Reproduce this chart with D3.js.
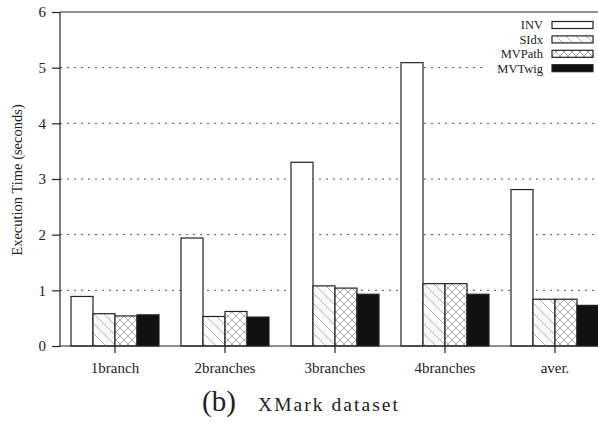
<!DOCTYPE html>
<html><head><meta charset="utf-8">
<script src="https://cdn.jsdelivr.net/npm/d3@7"></script>
<style>body{margin:0;background:#fff}svg{display:block}text{font-family:"Liberation Serif","Times New Roman",Times,serif;fill:#222}</style>
</head><body>
<script>
const categories = ["1branch","2branches","3branches","4branches","aver."];
const seriesNames = ["INV","SIdx","MVPath","MVTwig"];
const INV    = [0.89, 1.94, 3.30, 5.09, 2.81];
const SIdx   = [0.58, 0.53, 1.08, 1.12, 0.84];
const MVPath = [0.54, 0.62, 1.04, 1.12, 0.84];
const MVTwig = [0.56, 0.52, 0.93, 0.93, 0.73];
const yTicks = [0,1,2,3,4,5,6];
const yTitle = "Execution Time (seconds)";
const captionA = "(b)", captionB = "XMark dataset";

const series = [INV, SIdx, MVPath, MVTwig];
const W = 598, H = 423;
const m = {left:60, top:12, bottom:346, right:610};
const svg = d3.select("body").append("svg").attr("width",W).attr("height",H);
const defs = svg.append("defs");
const p1 = defs.append("pattern").attr("id","pS").attr("patternUnits","userSpaceOnUse").attr("width",10).attr("height",10);
p1.append("rect").attr("width",10).attr("height",10).attr("fill","#fff");
p1.append("path").attr("d","M-1,-1L11,11M-6,4L6,16M4,-6L16,6").attr("stroke","#888").attr("stroke-width",0.7);
const p2 = defs.append("pattern").attr("id","pM").attr("patternUnits","userSpaceOnUse").attr("width",8).attr("height",8);
p2.append("rect").attr("width",8).attr("height",8).attr("fill","#fff");
p2.append("path").attr("d","M0,0L8,8M8,0L0,8M-4,4L0,8M4,-4L12,4M-4,4L4,-4M4,12L12,4").attr("stroke","#888").attr("stroke-width",0.7);
const fills = ["#fff","url(#pS)","url(#pM)","#111"];

const x = d3.scaleBand().domain(categories).range([m.left, m.right]).paddingInner(0.2).paddingOuter(0.1);
const xs = d3.scaleBand().domain(seriesNames).range([0, x.bandwidth()]);
const y = d3.scaleLinear().domain([0,6]).range([m.bottom, m.top]);

// gridlines
svg.append("g").selectAll("line").data(yTicks.filter(d=>d>0 && d<6)).join("line")
  .attr("x1",m.left).attr("x2",W).attr("y1",d=>y(d)).attr("y2",d=>y(d))
  .attr("stroke","#555").attr("stroke-width",1).attr("stroke-dasharray","2,5");

// top frame line
svg.append("line").attr("x1",m.left).attr("x2",W).attr("y1",y(6)).attr("y2",y(6)).attr("stroke","#222").attr("stroke-width",1.2);

// legend background
svg.append("rect").attr("x",486).attr("y",17).attr("width",112).attr("height",59).attr("fill","#fff");

// bars
const g = svg.append("g");
seriesNames.forEach((s,i)=>{
  g.selectAll(null).data(categories).join("rect")
    .attr("x",c=>x(c)+xs(s)).attr("width",xs.bandwidth())
    .attr("y",(c,j)=>y(series[i][j])).attr("height",(c,j)=>y(0)-y(series[i][j]))
    .attr("fill",fills[i]).attr("stroke","#222").attr("stroke-width",1.2);
});

// y axis
const ya = svg.append("g").attr("transform",`translate(${m.left},0)`)
  .call(d3.axisLeft(y).tickValues(yTicks).tickSize(8).tickPadding(6).tickFormat(d3.format("d")));
ya.attr("font-family",null);
ya.select(".domain").attr("stroke","#222").attr("stroke-width",1.2).attr("d",`M0,${y(0)}V${y(6)}`);
ya.selectAll(".tick line").attr("stroke","#222").attr("stroke-width",1.2);
ya.selectAll("text").attr("font-size",15).attr("fill","#222");

// x axis
const xa = svg.append("g").attr("transform",`translate(0,${m.bottom})`)
  .call(d3.axisBottom(x).tickSize(7).tickPadding(9));
xa.attr("font-family",null);
xa.select(".domain").attr("d",`M${m.left},0H${W}`).attr("stroke","#222").attr("stroke-width",1.2);
xa.selectAll(".tick line").attr("stroke","#222").attr("stroke-width",1.2);
xa.selectAll("text").attr("font-size",15).attr("fill","#222");

// legend
const lg = svg.append("g");
seriesNames.forEach((s,i)=>{
  const cy = 25 + i*14.4;
  lg.append("text").attr("x",543).attr("y",cy+4.3).attr("text-anchor","end").attr("font-size",12.5).text(s);
  lg.append("rect").attr("x",552).attr("y",cy-3.5).attr("width",41).attr("height",7)
    .attr("fill",fills[i]).attr("stroke","#222").attr("stroke-width",1.2);
});

// y title
svg.append("text").attr("transform","translate(22,180) rotate(-90)").attr("text-anchor","middle")
  .attr("font-size",14.5).text(yTitle);

// caption
svg.append("text").attr("x",202).attr("y",411).attr("font-size",29).text(captionA);
svg.append("text").attr("x",258).attr("y",411).attr("font-size",19.5)
  .attr("textLength",140).attr("lengthAdjust","spacing").text(captionB);
</script>
</body></html>
